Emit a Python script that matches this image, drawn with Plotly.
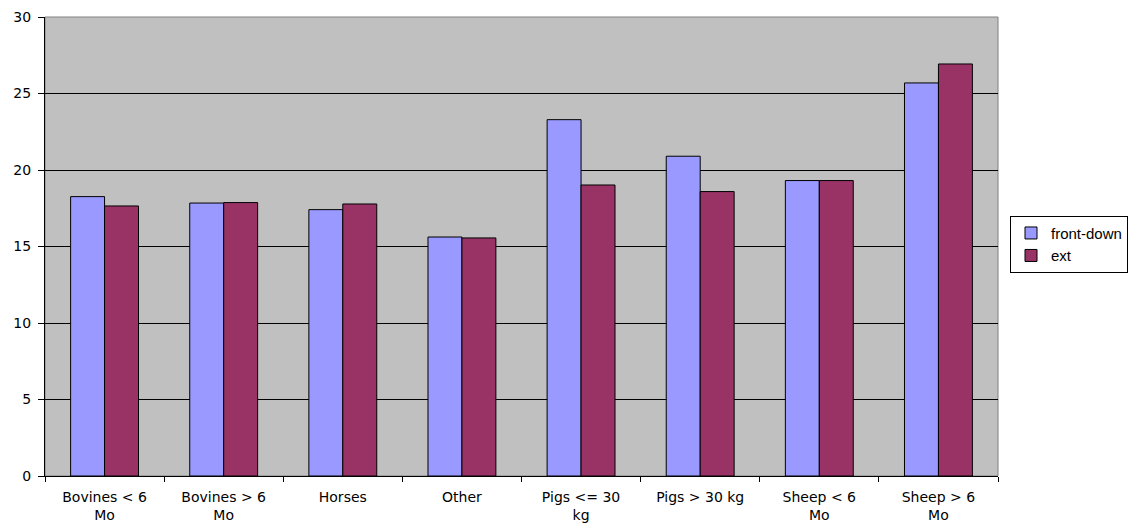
import plotly.graph_objects as go

categories = ["Bovines < 6<br>Mo", "Bovines > 6<br>Mo", "Horses", "Other",
              "Pigs <= 30<br>kg", "Pigs > 30 kg", "Sheep < 6<br>Mo", "Sheep > 6<br>Mo"]
front_down = [18.26, 17.84, 17.41, 15.62, 23.29, 20.9, 19.31, 25.69]
ext = [17.65, 17.87, 17.78, 15.56, 19.02, 18.59, 19.31, 26.93]
y_ticks = [0, 5, 10, 15, 20, 25, 30]

font = dict(family="DejaVu Sans, Arial, sans-serif", size=14, color="black")

fig = go.Figure()
fig.add_trace(go.Bar(x=categories, y=front_down, name="front-down",
                     marker=dict(color="#9999FF", line=dict(color="black", width=1))))
fig.add_trace(go.Bar(x=categories, y=ext, name="ext",
                     marker=dict(color="#993366", line=dict(color="black", width=1))))

fig.update_layout(
    width=1129, height=523,
    margin=dict(l=45, r=131, t=17, b=47, autoexpand=False),
    paper_bgcolor="white",
    plot_bgcolor="#C0C0C0",
    barmode="group",
    bargap=0.43,
    bargroupgap=0,
    font=font,
    showlegend=True,
    legend=dict(x=1.0126, y=0.505, xanchor="left", yanchor="middle",
                bordercolor="black", borderwidth=1, bgcolor="white",
                font=dict(family="Liberation Sans, Arial, sans-serif", size=15),
                itemwidth=30, tracegroupgap=0),
)
fig.update_xaxes(
    showline=True, linecolor="black", linewidth=1,
    ticks="outside", ticklen=5, tickcolor="black",
    tickson="boundaries", showgrid=False, tickangle=0,
    ticklabelstandoff=8, automargin=False,
)
fig.update_yaxes(
    range=[0, 30], tickvals=y_ticks,
    showline=True, linecolor="black", linewidth=1,
    ticks="outside", ticklen=6, tickcolor="black",
    showgrid=True, gridcolor="black", gridwidth=1,
    zeroline=False, ticklabelstandoff=4, automargin=False,
)
# plot-area frame on the top and right sides
fig.add_shape(type="rect", xref="paper", yref="paper", x0=0, x1=1, y0=0, y1=1,
              line=dict(color="#808080", width=1), layer="below")

fig.write_html("out.html")
